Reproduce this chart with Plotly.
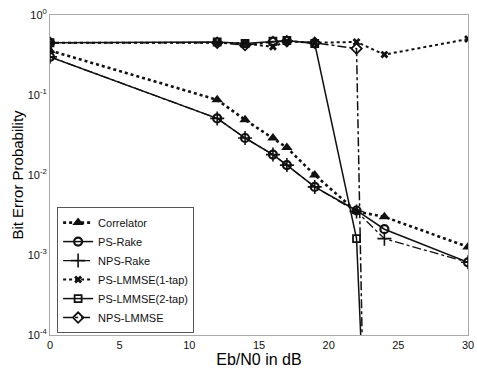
import plotly.graph_objects as go

# Eb/N0 (dB)
snr = [0, 12, 14, 16, 17, 19, 22, 24, 30]
snr_lmmse = [0, 12, 14, 16, 17, 19, 22, 23]

correlator = [0.36, 0.087, 0.049, 0.029, 0.022, 0.010, 0.0035, 0.0030, 0.00126]
ps_rake = [0.30, 0.051, 0.029, 0.018, 0.0133, 0.0071, 0.0036, 0.0021, 0.00081]
nps_rake = [0.30, 0.051, 0.029, 0.018, 0.0133, 0.0071, 0.0035, 0.0016, 0.00081]
ps_lmmse_1tap = [0.45, 0.45, 0.44, 0.40, 0.47, 0.45, 0.46, 0.32, 0.50]
ps_lmmse_2tap = [0.45, 0.46, 0.44, 0.47, 0.48, 0.44, 0.0016, 1.5e-7]
nps_lmmse = [0.45, 0.45, 0.42, 0.46, 0.47, 0.45, 0.38, 4e-10]

x_ticks = [0, 5, 10, 15, 20, 25, 30]
y_ticks = [1, 0.1, 0.01, 0.001, 0.0001]
y_ticktext = ["10<sup>0</sup>", "10<sup>-1</sup>", "10<sup>-2</sup>", "10<sup>-3</sup>", "10<sup>-4</sup>"]

K = "#111111"
fig = go.Figure()
fig.add_trace(go.Scatter(x=snr, y=correlator, name="Correlator", mode="lines+markers",
                         line=dict(color=K, width=2.6, dash="dot"),
                         marker=dict(symbol="triangle-up", size=10, color=K)))
fig.add_trace(go.Scatter(x=snr, y=ps_rake, name="PS-Rake", mode="lines+markers",
                         line=dict(color=K, width=1.5),
                         marker=dict(symbol="circle-open", size=8, color=K, line=dict(width=2.2, color=K))))
fig.add_trace(go.Scatter(x=snr, y=nps_rake, name="NPS-Rake", mode="lines+markers",
                         line=dict(color=K, width=1.3, dash="dashdot"),
                         marker=dict(symbol="cross-thin-open", size=10, color=K, line=dict(width=1.6, color=K))))
fig.add_trace(go.Scatter(x=snr, y=ps_lmmse_1tap, name="PS-LMMSE(1-tap)", mode="lines+markers",
                         line=dict(color=K, width=2, dash="dot"),
                         marker=dict(symbol="x", size=7, color=K)))
fig.add_trace(go.Scatter(x=snr_lmmse, y=ps_lmmse_2tap, name="PS-LMMSE(2-tap)", mode="lines+markers",
                         line=dict(color=K, width=1.5),
                         marker=dict(symbol="square-open", size=7, color=K, line=dict(width=1.8, color=K))))
fig.add_trace(go.Scatter(x=snr_lmmse, y=nps_lmmse, name="NPS-LMMSE", mode="lines+markers",
                         line=dict(color=K, width=1.5, dash="dashdot"),
                         marker=dict(symbol="diamond-open", size=8, color=K, line=dict(width=1.8, color=K))))

fig.update_layout(
    width=477, height=369,
    margin=dict(l=50, r=9, t=15, b=34),
    paper_bgcolor="white", plot_bgcolor="white",
    font=dict(family="Arial, Liberation Sans", color=K, size=11),
    showlegend=True,
    legend=dict(x=0.017, y=0.006, xanchor="left", yanchor="bottom",
                bgcolor="white", bordercolor="#555555", borderwidth=1,
                font=dict(size=11), itemwidth=30, tracegroupgap=0),
    xaxis=dict(range=[0, 30], tickvals=x_ticks, ticks="", showgrid=False, zeroline=False,
               showline=True, linecolor="#aaaaaa", linewidth=1, mirror=True, automargin=False,
               tickfont=dict(size=11),
               title=dict(text="Eb/N0 in dB", font=dict(size=16, color="#000000"), standoff=3)),
    yaxis=dict(type="log", range=[-4, 0], tickvals=y_ticks, ticktext=y_ticktext, ticks="",
               showgrid=False, zeroline=False, automargin=False,
               showline=True, linecolor="#aaaaaa", linewidth=1, mirror=True,
               tickfont=dict(size=11),
               title=dict(text="Bit Error Probability", font=dict(size=15, color="#000000"), standoff=0)),
)

# remove the browser's default page margin so the figure fills the 477x369 window exactly
fig.write_html("out.html",
               config={"displayModeBar": False},
               post_script="document.body.style.margin='0';document.body.style.overflow='hidden';")
